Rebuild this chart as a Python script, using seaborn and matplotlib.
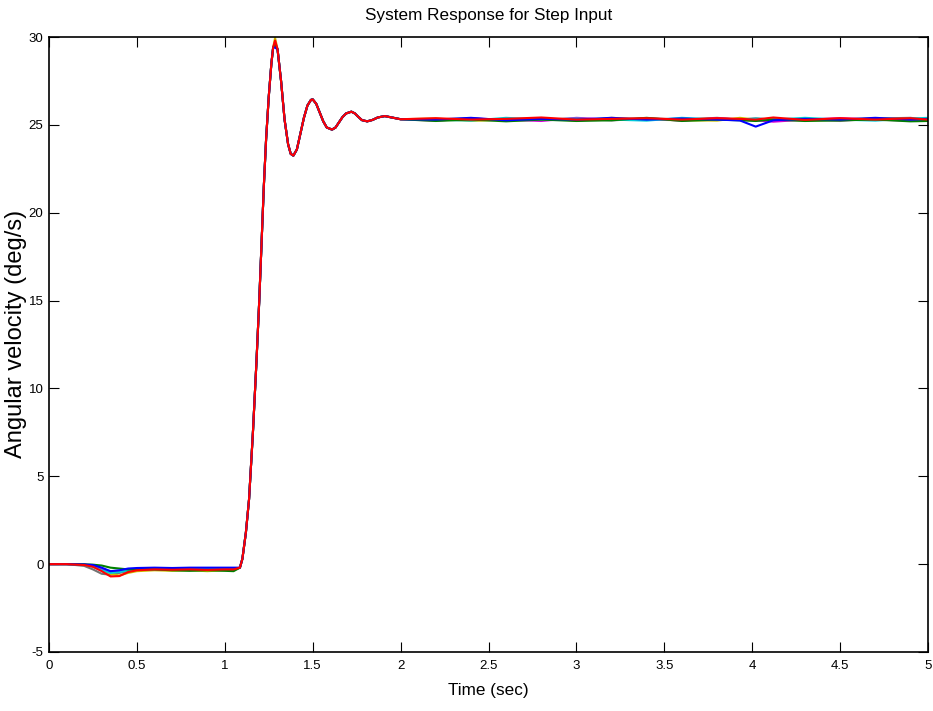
import numpy as np
import pandas as pd
import matplotlib
matplotlib.use("Agg")
import matplotlib.pyplot as plt
import seaborn as sns

# ---------------- data ----------------
t_early = [0, 0.1, 0.2, 0.25, 0.3, 0.35, 0.4, 0.45, 0.5, 0.6, 0.7, 0.8, 0.9, 1.0, 1.05]
t_rise = [1.086, 1.10, 1.12, 1.138, 1.16, 1.18, 1.196, 1.21, 1.222, 1.235, 1.25, 1.265,
          1.275, 1.286, 1.30, 1.32, 1.34, 1.36, 1.375, 1.39, 1.41, 1.43, 1.45, 1.47,
          1.49, 1.50, 1.52, 1.54, 1.56, 1.58, 1.61, 1.63, 1.65, 1.67, 1.69, 1.72,
          1.74, 1.76, 1.78, 1.81, 1.84, 1.87, 1.91, 1.95, 2.0]
v_rise = [-0.2, 0.3, 1.8, 3.7, 7.5, 11.5, 15.0, 18.5, 21.5, 24.2, 26.6, 28.5,
          29.4, 29.8, 29.3, 27.5, 25.3, 23.9, 23.35, 23.25, 23.6, 24.5, 25.4, 26.1,
          26.42, 26.45, 26.2, 25.7, 25.2, 24.85, 24.73, 24.85, 25.15, 25.45, 25.65, 25.75,
          25.65, 25.45, 25.27, 25.2, 25.28, 25.42, 25.5, 25.42, 25.32]
peak_index = 13
t_steady = [2.2, 2.4, 2.6, 2.8, 3.0, 3.2, 3.4, 3.6, 3.8, 3.93, 4.02, 4.12, 4.3, 4.5, 4.7, 4.9, 5.0]

runs = ["gray", "yellow", "magenta", "cyan", "green", "blue", "red"]

early = {
    "gray":    [0, 0, -0.1, -0.3, -0.55, -0.6, -0.5, -0.4, -0.35, -0.3, -0.3, -0.32, -0.3, -0.3, -0.3],
    "yellow":  [0, 0, -0.03, -0.1, -0.3, -0.55, -0.65, -0.5, -0.4, -0.35, -0.38, -0.35, -0.4, -0.35, -0.33],
    "magenta": [0, 0, -0.02, -0.1, -0.3, -0.45, -0.4, -0.3, -0.28, -0.28, -0.3, -0.28, -0.3, -0.3, -0.3],
    "cyan":    [0, 0, -0.03, -0.15, -0.35, -0.5, -0.45, -0.35, -0.3, -0.28, -0.3, -0.3, -0.28, -0.3, -0.3],
    "green":   [0, 0, -0.01, -0.03, -0.08, -0.2, -0.25, -0.3, -0.3, -0.3, -0.35, -0.38, -0.35, -0.38, -0.4],
    "blue":    [0, 0, -0.02, -0.05, -0.2, -0.4, -0.35, -0.25, -0.22, -0.2, -0.22, -0.2, -0.2, -0.2, -0.2],
    "red":     [0, 0, -0.05, -0.15, -0.4, -0.7, -0.68, -0.45, -0.35, -0.3, -0.32, -0.3, -0.33, -0.3, -0.3],
}
peak = {"gray": 29.6, "yellow": 29.95, "magenta": 29.7, "cyan": 29.6,
        "green": 29.55, "blue": 29.4, "red": 29.8}
steady = {
    "gray":    [25.3, 25.38, 25.24, 25.3, 25.36, 25.25, 25.38, 25.3, 25.4, 25.3, 25.37, 25.3, 25.3, 25.22, 25.36, 25.4, 25.3],
    "yellow":  [25.36, 25.22, 25.3, 25.38, 25.24, 25.4, 25.3, 25.26, 25.24, 25.4, 25.3, 25.36, 25.24, 25.3, 25.38, 25.3, 25.24],
    "magenta": [25.24, 25.36, 25.3, 25.22, 25.4, 25.3, 25.36, 25.24, 25.38, 25.3, 25.26, 25.18, 25.3, 25.38, 25.3, 25.24, 25.3],
    "cyan":    [25.3, 25.24, 25.4, 25.3, 25.36, 25.3, 25.24, 25.4, 25.3, 25.3, 25.36, 25.3, 25.4, 25.3, 25.24, 25.36, 25.4],
    "green":   [25.22, 25.3, 25.2, 25.3, 25.22, 25.26, 25.4, 25.22, 25.3, 25.26, 25.22, 25.3, 25.22, 25.26, 25.3, 25.2, 25.22],
    "blue":    [25.3, 25.4, 25.26, 25.34, 25.3, 25.4, 25.3, 25.36, 25.3, 25.25, 24.9, 25.26, 25.34, 25.3, 25.4, 25.3, 25.34],
    "red":     [25.38, 25.3, 25.34, 25.42, 25.3, 25.34, 25.38, 25.3, 25.38, 25.34, 25.3, 25.42, 25.28, 25.38, 25.3, 25.38, 25.3],
}

colors = {"gray": (0.45, 0.45, 0.45), "yellow": (0.8, 0.75, 0.0), "magenta": (0.85, 0.0, 0.85),
          "cyan": (0.0, 0.8, 0.85), "green": (0.0, 0.5, 0.0), "blue": (0.0, 0.0, 1.0),
          "red": (1.0, 0.0, 0.0)}

x_ticks = [0, 0.5, 1, 1.5, 2, 2.5, 3, 3.5, 4, 4.5, 5]
x_tick_labels = ["0", "0.5", "1", "1.5", "2", "2.5", "3", "3.5", "4", "4.5", "5"]
y_ticks = [-5, 0, 5, 10, 15, 20, 25, 30]
y_tick_labels = ["-5", "0", "5", "10", "15", "20", "25", "30"]

# ---------------- build long-form table ----------------
rows = []
for r in runs:
    vr = list(v_rise)
    vr[peak_index] = peak[r]
    ts = t_early + t_rise + t_steady
    vs = early[r] + vr + steady[r]
    for tt, vv in zip(ts, vs):
        rows.append({"run": r, "t": tt, "v": vv})
df = pd.DataFrame(rows)

# ---------------- plot ----------------
sns.set_theme(style="white")
fam = ["Liberation Sans", "DejaVu Sans"]
plt.rcParams["font.family"] = fam

fig = plt.figure(figsize=(9.33, 7.11), dpi=100)
ax = fig.add_axes([49 / 933, 59 / 711, 879 / 933, 615 / 711])

sns.lineplot(data=df, x="t", y="v", hue="run", hue_order=runs, palette=colors,
             estimator=None, units="run", sort=False, legend=False, linewidth=1.5, ax=ax)

ax.set_xlim(0, 5)
ax.set_ylim(-5, 30)
ax.set_xticks(x_ticks)
ax.set_xticklabels(x_tick_labels, fontsize=9.5)
ax.set_yticks(y_ticks)
ax.set_yticklabels(y_tick_labels, fontsize=9.5)
ax.tick_params(axis="x", pad=6)
ax.tick_params(direction="in", length=7, width=0.8, color="black", top=True, right=True,
               bottom=True, left=True, labelcolor="black")
ax.tick_params(axis="y", pad=4)
for s in ax.spines.values():
    s.set_color("black")
    s.set_linewidth(1.2)

ax.set_xlabel("Time (sec)", fontsize=12.3, color="black", labelpad=8)
ax.set_ylabel("Angular velocity (deg/s)", fontsize=17, color="black")
ax.yaxis.set_label_coords(-22 / 879, 0.517)
ax.set_title("System Response for Step Input", fontsize=12.3, color="black", pad=12)

fig.savefig("out.png", dpi=100)
